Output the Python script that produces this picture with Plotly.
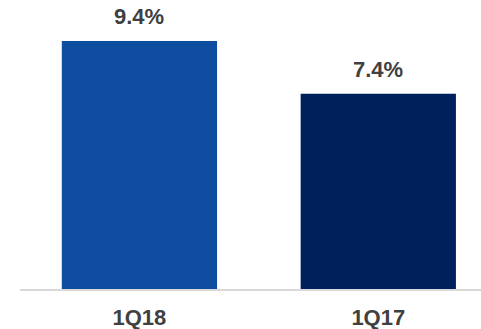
import plotly.graph_objects as go

categories = ["1Q18", "1Q17"]
values = [9.4, 7.4]
labels = ["9.4%", "7.4%"]
colors = ["#0E4DA0", "#00205C"]

FONT = "Arial, Liberation Sans"

fig = go.Figure()
fig.add_trace(go.Bar(
    x=categories, y=values, marker=dict(color=colors, line=dict(width=0)),
    width=0.65, hoverinfo="skip"
))
for c, v, t in zip(categories, values, labels):
    fig.add_annotation(x=c, y=v, text=t, showarrow=False, yanchor="bottom",
                       yshift=10, font=dict(family=FONT, size=22, color="#404040", weight="bold"))

fig.update_layout(
    width=481, height=329, margin=dict(l=20, r=0, t=0, b=40),
    paper_bgcolor="white", plot_bgcolor="white", showlegend=False,
    xaxis=dict(range=[-0.5, 1.43], showline=True, linecolor="#D9D9D9", linewidth=2,
               showgrid=False, zeroline=False,
               tickfont=dict(family=FONT, size=22, color="#404040", weight="bold"),
               ticks="outside", ticklen=8, tickcolor="rgba(0,0,0,0)"),
    yaxis=dict(range=[0, 10.955], visible=False, showgrid=False, zeroline=False),
)
fig.write_html("out.html")
